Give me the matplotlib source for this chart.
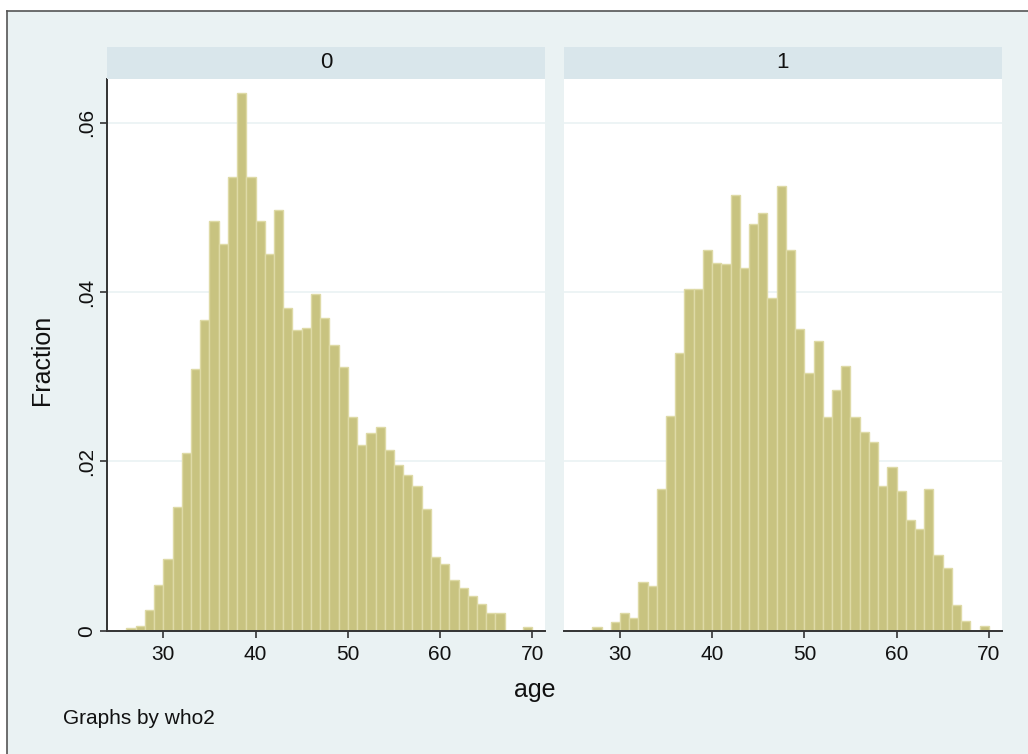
import numpy as np
import matplotlib
matplotlib.use('Agg')
import matplotlib.pyplot as plt
from matplotlib.lines import Line2D
from matplotlib.patches import Rectangle

plt.rcParams['font.family'] = ['Liberation Sans', 'DejaVu Sans']

# age bins (left edge, width 1) and fractions
ages = list(range(26, 70))
frac_0 = [0.0003, 0.0005, 0.0025, 0.0054, 0.0085, 0.0146, 0.0210, 0.0309,
          0.0367, 0.0484, 0.0457, 0.0536, 0.0635, 0.0536, 0.0484, 0.0445,
          0.0497, 0.0381, 0.0355, 0.0358, 0.0398, 0.0370, 0.0338, 0.0311,
          0.0253, 0.0220, 0.0233, 0.0241, 0.0214, 0.0196, 0.0184, 0.0171,
          0.0144, 0.0087, 0.0079, 0.0060, 0.0051, 0.0041, 0.0031, 0.0021,
          0.0021, 0.0, 0.0, 0.0004]
frac_1 = [0.0, 0.0004, 0.0, 0.0010, 0.0021, 0.0015, 0.0057, 0.0053,
          0.0167, 0.0254, 0.0328, 0.0404, 0.0404, 0.0450, 0.0435, 0.0433,
          0.0515, 0.0428, 0.0480, 0.0493, 0.0393, 0.0526, 0.0450, 0.0357,
          0.0305, 0.0342, 0.0253, 0.0284, 0.0313, 0.0253, 0.0235, 0.0223,
          0.0171, 0.0194, 0.0165, 0.0131, 0.0120, 0.0167, 0.0090, 0.0074,
          0.0030, 0.0012, 0.0, 0.0006]
groups = ['0', '1']
yticks = [0, 0.02, 0.04, 0.06]
ytick_labels = ['0', '.02', '.04', '.06']
xticks = [30, 40, 50, 60, 70]

W, H = 1028, 754
bg = '#EAF2F3'
strip_col = '#D9E6EB'
bar_col = '#C8C380'
bar_edge = '#DEDAA6'
axis_col = '#333333'

fig = plt.figure(figsize=(W / 100, H / 100), dpi=100)
fig.patch.set_facecolor('white')

def fx(px):
    return px / W

def fy(py):
    return 1 - py / H

# background + frame
fig.add_artist(Rectangle((fx(7), 0), 1 - fx(7), fy(10.5), transform=fig.transFigure,
                         facecolor=bg, edgecolor='none', zorder=-10))
fig.add_artist(Line2D([fx(7), 1], [fy(10.5), fy(10.5)], transform=fig.transFigure,
                      color='#555555', lw=1.2))
fig.add_artist(Line2D([fx(7), fx(7)], [0, fy(10.5)], transform=fig.transFigure,
                      color='#555555', lw=1.2))

panels = [(107, 545.3), (563.7, 1001.7)]
top, bottom = 79.3, 630.7
data = [frac_0, frac_1]

for i, (x0, x1) in enumerate(panels):
    ax = fig.add_axes([fx(x0), fy(bottom), fx(x1 - x0), (bottom - top) / H])
    ax.set_facecolor('white')
    ax.bar(ages, data[i], width=1, align='edge', color=bar_col,
           edgecolor=bar_edge, linewidth=1.0, zorder=3)
    ax.set_xlim(23.9, 71.4)
    ax.set_ylim(0, 0.06515)
    ax.set_yticks(yticks)
    ax.set_xticks(xticks)
    ax.grid(axis='y', color=bg, linewidth=1.2, zorder=0)
    for s in ['top', 'right']:
        ax.spines[s].set_visible(False)
    ax.spines['bottom'].set_color(axis_col)
    ax.spines['bottom'].set_linewidth(1.4)
    ax.spines['bottom'].set_zorder(5)
    ax.tick_params(axis='x', direction='out', length=5, width=1.2, color=axis_col,
                   labelsize=15, pad=5, labelcolor='#111111')
    if i == 0:
        ax.spines['left'].set_color(axis_col)
        ax.spines['left'].set_linewidth(1.4)
        ax.set_yticklabels(ytick_labels)
        ax.tick_params(axis='y', direction='out', length=5, width=1.2, color=axis_col,
                       labelsize=15, pad=3, labelcolor='#111111', labelrotation=90)
        for lab in ax.get_yticklabels():
            lab.set_va('center')
    else:
        ax.spines['left'].set_visible(False)
        ax.tick_params(axis='y', length=0, labelleft=False)

    # strip
    sax = fig.add_axes([fx(x0), fy(79.3), fx(x1 - x0), (79.3 - 46.7) / H])
    sax.set_facecolor(strip_col)
    for s in sax.spines.values():
        s.set_visible(False)
    sax.set_xticks([])
    sax.set_yticks([])
    sax.text(0.5, 0.5, groups[i], ha='center', va='center', fontsize=16,
             color='#111111', transform=sax.transAxes)

fig.text(fx(42), fy(360), 'Fraction', rotation=90, ha='center', va='center',
         fontsize=18, color='#111111')
fig.text(fx(535), fy(690), 'age', ha='center', va='center', fontsize=18,
         color='#111111')
fig.text(fx(63), fy(718), 'Graphs by who2', ha='left', va='center', fontsize=15,
         color='#111111')

fig.savefig('out.png', dpi=100, facecolor=fig.get_facecolor())
